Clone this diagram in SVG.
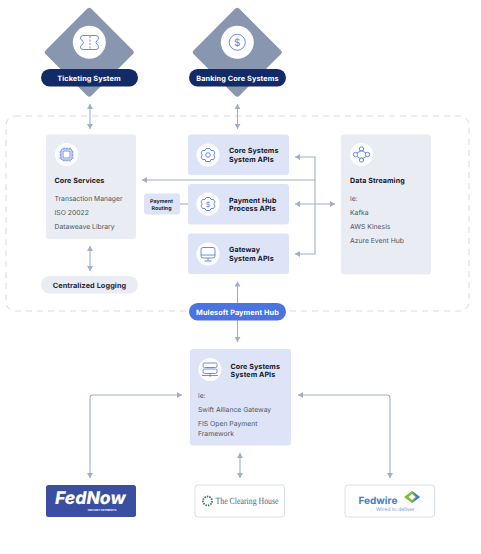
<svg xmlns="http://www.w3.org/2000/svg" width="481" height="554" viewBox="0 0 481 554">
<defs>
<marker id="ah" markerUnits="userSpaceOnUse" markerWidth="7" markerHeight="6" refX="5" refY="3" orient="auto-start-reverse"><path d="M0 0L5 3L0 6Z" fill="#9fafc4"/></marker>
</defs>
<style>
text{font-family:Inter,"Liberation Sans",sans-serif;text-rendering:geometricPrecision}
.t{font-size:7.100px;font-weight:700;fill:#111827;letter-spacing:.1px}
.b{font-size:6.800px;fill:#4b5563}
.pl{font-size:7.300px;font-weight:700;fill:#fff;text-anchor:middle;letter-spacing:.1px}
.c{fill:none;stroke:#9fafc4;stroke-width:1.100}
.i{fill:none;stroke:#5b7fe8;stroke-width:.9}
.bl{fill:#dde4f8}.gr{fill:#e9ecf2}
</style>
<rect x="6" y="116" width="463" height="195" rx="9" fill="none" stroke="#d3dbe7" stroke-dasharray="6 5"/>
<g id="connectors">
<path class="c" d="M90 104V129" marker-start="url(#ah)" marker-end="url(#ah)"/>
<path class="c" d="M237.500 104V129" marker-start="url(#ah)" marker-end="url(#ah)"/>
<path class="c" d="M315 180H142" marker-end="url(#ah)"/>
<path class="c" d="M295 157H315V254H295" marker-start="url(#ah)" marker-end="url(#ah)"/>
<path class="c" d="M295 204H335" marker-start="url(#ah)" marker-end="url(#ah)"/>
<path class="c" d="M180 204H188"/>
<path class="c" d="M90 246V271" marker-start="url(#ah)" marker-end="url(#ah)"/>
<path class="c" d="M237.500 303V281.500" marker-end="url(#ah)"/>
<path class="c" d="M237.500 320V342" marker-end="url(#ah)"/>
<path class="c" d="M90 478V398Q90 395 93 395H182" marker-start="url(#ah)" marker-end="url(#ah)"/>
<path class="c" d="M390 478V398Q390 395 387 395H298" marker-start="url(#ah)" marker-end="url(#ah)"/>
<path class="c" d="M240 453V478" marker-start="url(#ah)" marker-end="url(#ah)"/>
</g>
<g id="ticketing">
<rect x="57" y="20" width="64.500" height="64.500" rx="3" fill="#8996b0" transform="rotate(45 89.250 52.250)"/>
<circle cx="89.300" cy="42.300" r="16.500" fill="#fff"/>
<path class="i" d="M83 35.500H96Q98.500 35.500 98.500 38Q98.500 40 97 40.500Q95 42.500 97 44.500Q98.500 45 98.500 47Q98.500 49.500 96 49.500H83Q80.500 49.500 80.500 47Q80.500 45 82.500 44.500Q84.500 42.500 82.500 40.500Q80.500 40 80.500 38Q80.500 35.500 83 35.500Z"/>
<path class="i" d="M90 36V49" stroke-dasharray="2 1.500"/>
<rect x="41" y="69" width="97" height="17.500" rx="8.700" fill="#122b66"/>
<text class="pl" x="89" y="80.500">Ticketing System</text>
</g>
<g id="banking">
<rect x="205" y="20" width="64.500" height="64.500" rx="3" fill="#8996b0" transform="rotate(45 237.250 52.250)"/>
<circle cx="237.300" cy="42.300" r="16.500" fill="#fff"/>
<circle class="i" cx="237.300" cy="42.300" r="8"/>
<text x="237.300" y="45.800" text-anchor="middle" style="font-size:10px;fill:#5b7fe8">$</text>
<rect x="189" y="69" width="97" height="17.500" rx="8.700" fill="#122b66"/>
<text class="pl" x="237.500" y="80.500">Banking Core Systems</text>
</g>
<g id="core-services">
<rect class="gr" x="46" y="134.500" width="90" height="104.500" rx="3"/>
<circle cx="66.500" cy="154.500" r="11.500" fill="#fff"/>
<rect class="i" x="61" y="149" width="11" height="11" rx="2"/>
<rect class="i" x="63" y="151" width="7" height="7"/>
<path class="i" d="M59.500 152H61M59.500 155H61M59.500 158H61M72 152H73.500M72 155H73.500M72 158H73.500M64 147.500V149M67 147.500V149M70 147.500V149M64 160V161.500M67 160V161.500M70 160V161.500"/>
<text class="t" x="54.500" y="182.500">Core Services</text>
<text class="b" x="54.500" y="200.500">Transaction Manager</text>
<text class="b" x="54.500" y="214.500">ISO 20022</text>
<text class="b" x="54.500" y="228.500">Dataweave Library</text>
</g>
<g id="logging">
<rect class="gr" x="41" y="276" width="97" height="17.500" rx="8.700"/>
<text x="89.500" y="288" text-anchor="middle" style="font-size:7.300px;font-weight:700;fill:#1f2937;letter-spacing:.1px">Centralized Logging</text>
</g>
<g id="core-apis">
<rect class="bl" x="188" y="134.500" width="101" height="40.500" rx="3"/>
<circle cx="208" cy="155" r="11.500" fill="#fff"/>
<path class="i" d="M206 148.500H210L211 150.500L213.500 150.500L215 153L213.700 155L215 157L213.500 159.500L211 159.500L210 161.500H206L205 159.500L202.500 159.500L201 157L202.300 155L201 153L202.500 150.500L205 150.500Z"/>
<circle class="i" cx="208" cy="155" r="2.300"/>
<text class="t" x="229" y="153">Core Systems</text>
<text class="t" x="229" y="161.700">System APIs</text>
</g>
<g id="payment-hub">
<rect class="bl" x="188" y="184" width="101" height="40.500" rx="3"/>
<circle cx="208" cy="204" r="11.500" fill="#fff"/>
<path class="i" d="M206 197.500H210L211 199.500L213.500 199.500L215 202L213.700 204L215 206L213.500 208.500L211 208.500L210 210.500H206L205 208.500L202.500 208.500L201 206L202.300 204L201 202L202.500 199.500L205 199.500Z"/>
<text x="208" y="206.700" text-anchor="middle" style="font-size:7px;fill:#5b7fe8">$</text>
<text class="t" x="229" y="202.700">Payment Hub</text>
<text class="t" x="229" y="211.400">Process APIs</text>
</g>
<g id="payment-routing">
<rect class="bl" x="144" y="193.500" width="36" height="21" rx="3"/>
<text x="161.500" y="203" text-anchor="middle" style="font-size:5.300px;font-weight:700;fill:#1f2937">Payment</text>
<text x="161.500" y="209.500" text-anchor="middle" style="font-size:5.300px;font-weight:700;fill:#1f2937">Routing</text>
</g>
<g id="gateway">
<rect class="bl" x="188" y="233.500" width="101" height="40.500" rx="3"/>
<circle cx="208" cy="254" r="11.500" fill="#fff"/>
<rect class="i" x="201" y="247.500" width="14" height="10.500" rx="2"/>
<path class="i" d="M201 255H215M208 258V261M204.500 261H211.500"/>
<text class="t" x="229" y="252">Gateway</text>
<text class="t" x="229" y="260.700">System APIs</text>
</g>
<g id="data-streaming">
<rect class="gr" x="341" y="134.500" width="90" height="140" rx="3"/>
<circle cx="361.500" cy="154.500" r="11.500" fill="#fff"/>
<path class="i" d="M361.500 150.500L357 153M361.500 150.500L366 153M357 156.500L361 159M366 156.500L362 159"/>
<circle class="i" cx="361.500" cy="149" r="2.200"/><circle class="i" cx="361.500" cy="160" r="2.200"/><circle class="i" cx="355.500" cy="154.500" r="2.200"/><circle class="i" cx="367.500" cy="154.500" r="2.200"/>
<text class="t" x="350" y="182.500">Data Streaming</text>
<text class="b" x="350" y="200.500">ie:</text>
<text class="b" x="350" y="214.500">Kafka</text>
<text class="b" x="350" y="228.500">AWS Kinesis</text>
<text class="b" x="350" y="242.500">Azure Event Hub</text>
</g>
<g id="mulesoft">
<rect x="189" y="303" width="97" height="17.500" rx="8.700" fill="#4c74e0"/>
<text class="pl" x="237.500" y="314.500">Mulesoft Payment Hub</text>
</g>
<g id="system-apis">
<rect class="bl" x="190" y="349" width="101" height="96.500" rx="3"/>
<circle cx="210" cy="369.500" r="11.500" fill="#fff"/>
<rect class="i" x="203" y="363" width="14" height="4.500" rx="1.500"/>
<rect class="i" x="203" y="369" width="14" height="4.500" rx="1.500"/>
<path class="i" d="M210 373.500V377M202 375.500H218"/>
<text class="t" x="230.500" y="368.500">Core Systems</text>
<text class="t" x="230.500" y="377.200">System APIs</text>
<text class="b" x="198" y="398">ie:</text>
<text class="b" x="198" y="412">Swift Alliance Gateway</text>
<text class="b" x="198" y="426">FIS Open Payment</text>
<text class="b" x="198" y="435.700">Framework</text>
</g>
<g id="fednow">
<rect x="46" y="485" width="90" height="32" rx="2.500" fill="#3b4fa0"/>
<text x="55" y="504" style="font-size:17.500px;font-weight:800;font-style:italic;fill:#fff">FedNow</text>
<text x="102" y="511" text-anchor="middle" style="font-size:2.800px;font-weight:700;fill:#fff">INSTANT PAYMENTS</text>
</g>
<g id="clearing-house">
<rect x="195" y="485" width="89.500" height="32" rx="3" fill="#fff" stroke="#d9dfe9"/>
<circle cx="207.500" cy="501" r="4.500" fill="none" stroke="#3d7a5d" stroke-width="1.800" stroke-dasharray="1.500 1"/>
<text x="215.500" y="504" textLength="63" lengthAdjust="spacingAndGlyphs" style="font-family:'Liberation Serif',serif;font-size:9.400px;fill:#4a5f86">The Clearing House</text>
</g>
<g id="fedwire">
<rect x="345" y="485" width="89.500" height="32" rx="3" fill="#fff" stroke="#d9dfe9"/>
<text x="358.500" y="504" style="font-size:10px;font-weight:700;fill:#3f7fd0">Fedwire</text>
<path d="M412 491L420 497L412 503L404 497Z" fill="#7dbb3f"/>
<path d="M412 491L420 497L412 503L416 497Z" fill="#3f7fd0"/>
<path d="M412 494L415.500 497L412 500L408.500 497Z" fill="#fff"/>
<text x="376" y="510.500" style="font-size:5.200px;fill:#6f9ad8">Wired to deliver</text>
</g>
</svg>
